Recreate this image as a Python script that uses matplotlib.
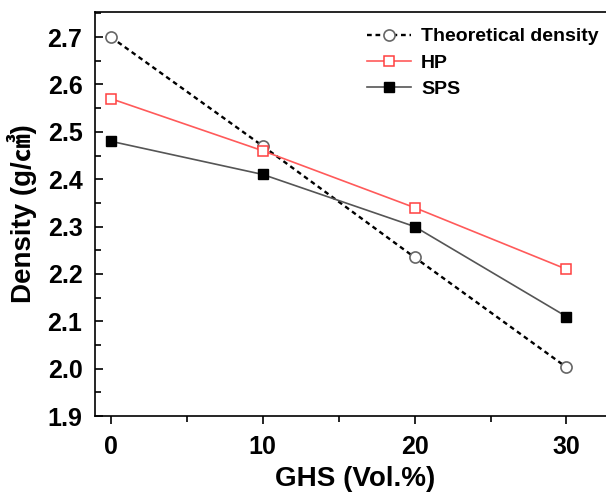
import matplotlib
matplotlib.use("Agg")
import matplotlib.pyplot as plt
from matplotlib.ticker import MultipleLocator

plt.rcParams["font.family"] = ["Liberation Sans", "Noto Sans CJK SC", "DejaVu Sans"]
plt.rcParams["font.weight"] = "bold"

# data
ghs = [0, 10, 20, 30]
theoretical = [2.70, 2.47, 2.235, 2.003]
hp = [2.57, 2.46, 2.34, 2.21]
sps = [2.48, 2.41, 2.30, 2.11]

fig = plt.figure(figsize=(6.06, 5.03), dpi=100)
ax = fig.add_axes([95 / 606, 87 / 503, 520 / 606, 404 / 503])

ax.plot(ghs, theoretical, ls=(0, (2, 1.6)), color="black", lw=1.7,
        marker="o", ms=8, mfc="white", mec="#666666", mew=1.2,
        label="Theoretical density")
ax.plot(ghs, hp, ls="-", color="#ff5a5a", lw=1.2,
        marker="s", ms=7.5, mfc="white", mec="#ff4040", mew=1.1,
        label="HP")
ax.plot(ghs, sps, ls="-", color="#555555", lw=1.2,
        marker="s", ms=7.5, mfc="black", mec="black",
        label="SPS")

ax.set_xlim(-1.05, 33.2)
ax.set_ylim(1.9, 2.753)
ax.xaxis.set_major_locator(MultipleLocator(10))
ax.xaxis.set_minor_locator(MultipleLocator(5))
ax.yaxis.set_major_locator(MultipleLocator(0.1))
ax.yaxis.set_minor_locator(MultipleLocator(0.05))
ax.yaxis.set_major_formatter(matplotlib.ticker.FormatStrFormatter("%.1f"))

ax.tick_params(axis="x", which="major", direction="out", length=6, width=1.2,
               labelsize=18, pad=8)
ax.tick_params(axis="x", which="minor", direction="out", length=4, width=1.2)
ax.tick_params(axis="y", which="major", direction="in", length=6, width=1.2,
               labelsize=18, pad=9)
ax.tick_params(axis="y", which="minor", direction="in", length=4, width=1.2)
for lab in ax.get_xticklabels() + ax.get_yticklabels():
    lab.set_fontweight("bold")
for sp in ax.spines.values():
    sp.set_linewidth(1.2)
ax.spines["right"].set_visible(False)

ax.set_xlabel("GHS (Vol.%)", fontsize=20, fontweight="bold", labelpad=5)
ax.set_ylabel("Density (g/㎤)", fontsize=20, fontweight="bold", labelpad=8)

leg = ax.legend(loc="upper left", bbox_to_anchor=(0.5, 0.99), frameon=False,
                fontsize=14, handlelength=2.3, handletextpad=0.5,
                labelspacing=0.45, borderaxespad=0.2)
for t in leg.get_texts():
    t.set_fontweight("bold")

fig.savefig("out.png", dpi=100)
